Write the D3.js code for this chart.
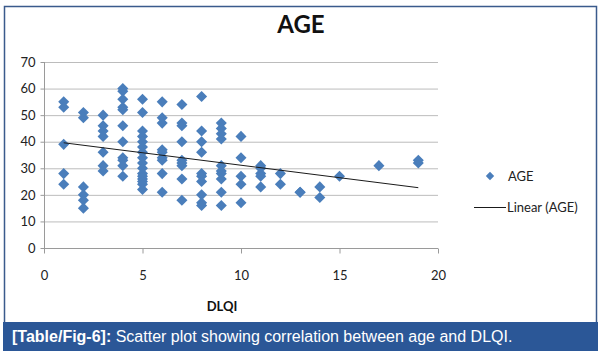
<!DOCTYPE html>
<html><head><meta charset="utf-8">
<script src="https://cdn.jsdelivr.net/npm/d3@7"></script>
<style>body{margin:0;background:#fff}svg{display:block}</style>
</head><body><svg id="c" width="601" height="356"></svg>
<script>
// DLQI score (x) and AGE (y) for each patient
const dlqi = [
 1,1,1,1,1,
 2,2,2,2,2,2,
 3,3,3,3,3,3,3,
 4,4,4,4,4,4,4,4,4,4,4,
 5,5,5,5,5,5,5,5,5,5,5,5,5,5,5,5,
 6,6,6,6,6,6,6,6,6,
 7,7,7,7,7,7,7,7,7,
 8,8,8,8,8,8,8,8,8,8,
 9,9,9,9,9,9,9,9,9,9,
 10,10,10,10,10,
 11,11,11,11,11,
 12,12,
 13,13,
 14,14,
 15,
 17,
 19,19
];
const age = [
 55,53,39,28,24,
 51,49,23,20,18,15,
 50,46,44,42,36,31,29,
 60,59,56,53,52,46,40,34,33,31,27,
 56,51,44,42,40,38,36,34,32,30,28,27,26,25,24,22,
 55,49,47,37,36,34,33,28,21,
 54,47,46,40,33,32,31,26,18,
 57,44,40,36,28,27,25,20,17,16,
 47,45,43,41,31,29,28,26,21,16,
 42,34,27,24,17,
 31,30,28,27,23,
 28,24,
 21,21,
 23,19,
 27,
 31,
 32,33
];
// Linear (AGE) trend line end points
const trendX = [1, 19];
const trendY = [39.6, 22.7];
const xTicks = [0,5,10,15,20];
const yTicks = [0,10,20,30,40,50,60,70];
const title = "AGE";
const xTitle = "DLQI";
const seriesName = "AGE";
const trendName = "Linear (AGE)";
const captionBold = "[Table/Fig-6]:";
const captionText = " Scatter plot showing correlation between age and DLQI.";

const svg = d3.select("#c");
const blue = "#4a7ebb";
const font = "Lato, 'Open Sans', sans-serif";

// frame
svg.append("rect").attr("x",4.5).attr("y",6.5).attr("width",592).attr("height",318)
  .attr("fill","#fff").attr("stroke","#3a5a8c").attr("stroke-width",1.5);
// caption band
svg.append("rect").attr("x",3).attr("y",322).attr("width",595).attr("height",29).attr("fill","#2b5797");
const cap = svg.append("text").attr("x",12).attr("y",342).attr("fill","#fff")
  .attr("font-family","'Liberation Sans', Arial, sans-serif").attr("font-size",16);
cap.append("tspan").attr("font-weight","bold").text(captionBold);
cap.append("tspan").text(captionText);

const x = d3.scaleLinear().domain([0,20]).range([44,438]);
const y = d3.scaleLinear().domain([0,70]).range([248,62]);

// grid
svg.append("g").selectAll("line").data(yTicks.filter(d=>d>0)).join("line")
  .attr("x1",x(0)).attr("x2",x(20)).attr("y1",d=>y(d)+0.5).attr("y2",d=>y(d)+0.5)
  .attr("stroke","#bcbcbc").attr("stroke-width",1);

// axes
const xa = svg.append("g").attr("transform",`translate(0,${y(0)+0.5})`)
  .call(d3.axisBottom(x).tickValues(xTicks).tickSize(5).tickPadding(17).tickFormat(d3.format("d")));
xa.select(".domain").attr("stroke","#9a9a9a").attr("d",`M${x(0)},0H${x(20)}`);
xa.selectAll(".tick line").attr("stroke","#9a9a9a");
xa.selectAll("text").attr("font-family",font).attr("font-size",13).attr("fill","#222");

const ya = svg.append("g").attr("transform",`translate(${x(0)+0.5},0)`)
  .call(d3.axisLeft(y).tickValues(yTicks).tickSize(4).tickPadding(5).tickFormat(d3.format("d")));
ya.select(".domain").attr("stroke","#9a9a9a").attr("d",`M0,${y(70)}V${y(0)}`);
ya.selectAll(".tick line").attr("stroke","#9a9a9a");
ya.selectAll("text").attr("font-family",font).attr("font-size",13).attr("fill","#222");

// points
const diamond = d3.symbol().type(d3.symbolDiamond2).size(78);
svg.append("g").selectAll("path").data(d3.range(dlqi.length)).join("path")
  .attr("d",diamond).attr("transform",i=>`translate(${x(dlqi[i])},${y(age[i])})`)
  .attr("fill",blue);

// trend
svg.append("line").attr("x1",x(trendX[0])).attr("y1",y(trendY[0]))
  .attr("x2",x(trendX[1])).attr("y2",y(trendY[1])).attr("stroke","#1a1a1a").attr("stroke-width",1);

// titles
svg.append("text").attr("x",301).attr("y",33).attr("text-anchor","middle")
  .attr("font-family",font).attr("font-weight","bold").attr("font-size",24).attr("fill","#111").text(title);
svg.append("text").attr("x",222).attr("y",311).attr("text-anchor","middle")
  .attr("font-family",font).attr("font-weight","bold").attr("font-size",13).attr("fill","#111").text(xTitle);

// legend
svg.append("path").attr("d",d3.symbol().type(d3.symbolDiamond2).size(45))
  .attr("transform","translate(490,176)").attr("fill",blue);
svg.append("text").attr("x",508).attr("y",181).attr("font-family",font).attr("font-size",13).attr("fill","#222").text(seriesName);
svg.append("line").attr("x1",474).attr("x2",506).attr("y1",207.5).attr("y2",207.5).attr("stroke","#1a1a1a");
svg.append("text").attr("x",507).attr("y",212).attr("font-family",font).attr("font-size",13).attr("fill","#222").text(trendName);
</script></body></html>
